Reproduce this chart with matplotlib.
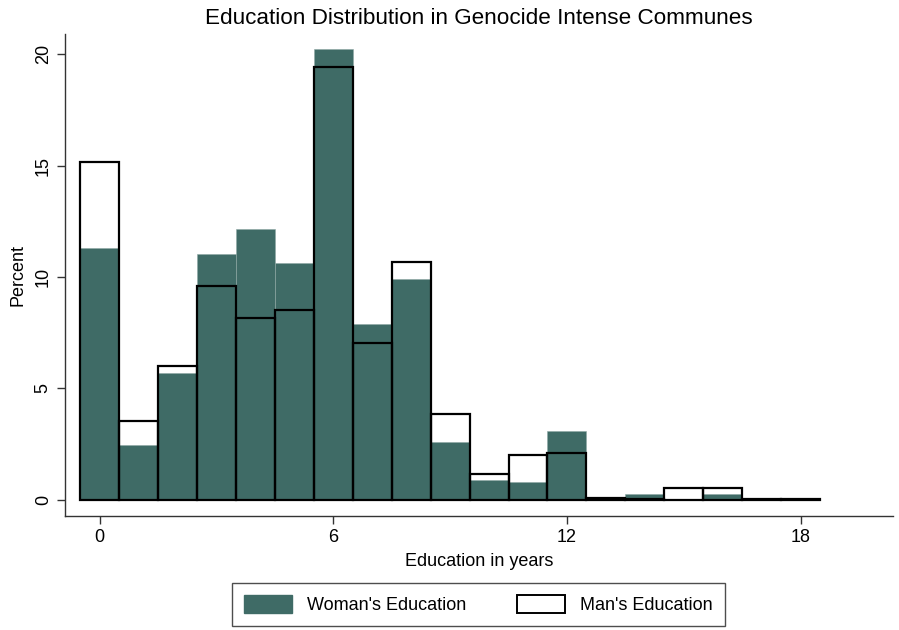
import matplotlib.pyplot as plt
from matplotlib.patches import Patch

plt.rcParams['font.family'] = ['Liberation Sans', 'DejaVu Sans']

# years of schooling, one bin per year
years = list(range(19))
women_pct = [11.31, 2.47, 5.68, 11.02, 12.17, 10.64, 20.22, 7.88, 9.91,
             2.60, 0.88, 0.81, 3.08, 0.08, 0.25, 0.02, 0.25, 0.04, 0.03]
men_pct = [15.14, 3.54, 6.02, 9.58, 8.15, 8.52, 19.43, 7.03, 10.67,
           3.86, 1.15, 2.02, 2.09, 0.10, 0.05, 0.55, 0.55, 0.05, 0.05]

teal = '#3f6b66'

fig = plt.figure(figsize=(8.99, 6.3), dpi=100)
ax = fig.add_axes([0.0723, 0.181, 0.921, 0.765])

ax.bar(years, women_pct, width=1.0, color=teal, edgecolor='#8fa8a5',
       linewidth=0.4, zorder=2)
ax.bar(years, men_pct, width=1.0, fill=False, edgecolor='black',
       linewidth=1.6, zorder=3)

ax.set_xlim(-0.886, 20.37)
ax.set_ylim(-0.72, 20.9)
ax.set_xticks([0, 6, 12, 18])
ax.set_yticks([0, 5, 10, 15, 20])
ax.tick_params(axis='both', labelsize=13, length=6, width=1, color='#333333')
plt.setp(ax.get_yticklabels(), rotation=90, va='center')

for side in ['top', 'right']:
    ax.spines[side].set_visible(False)
for side in ['left', 'bottom']:
    ax.spines[side].set_color('#333333')
    ax.spines[side].set_linewidth(1.0)

ax.set_xlabel('Education in years', fontsize=13, labelpad=5)
ax.set_ylabel('Percent', fontsize=13, labelpad=6)
ax.set_title("Education Distribution in Genocide Intense Communes",
             fontsize=16.2, pad=7)

handles = [Patch(facecolor=teal, edgecolor=teal, label="Woman's Education"),
           Patch(facecolor='white', edgecolor='black', linewidth=1.4,
                 label="Man's Education")]
leg = fig.legend(handles=handles, loc='lower center', ncol=2,
                 bbox_to_anchor=(0.532, 0.006), borderaxespad=0,
                 fontsize=13, frameon=True, fancybox=False,
                 edgecolor='#222222', handlelength=2.65, handleheight=1.15,
                 handletextpad=0.85, columnspacing=2.8, borderpad=0.66)
leg.get_frame().set_linewidth(1.0)

fig.savefig('out.png', dpi=100)
